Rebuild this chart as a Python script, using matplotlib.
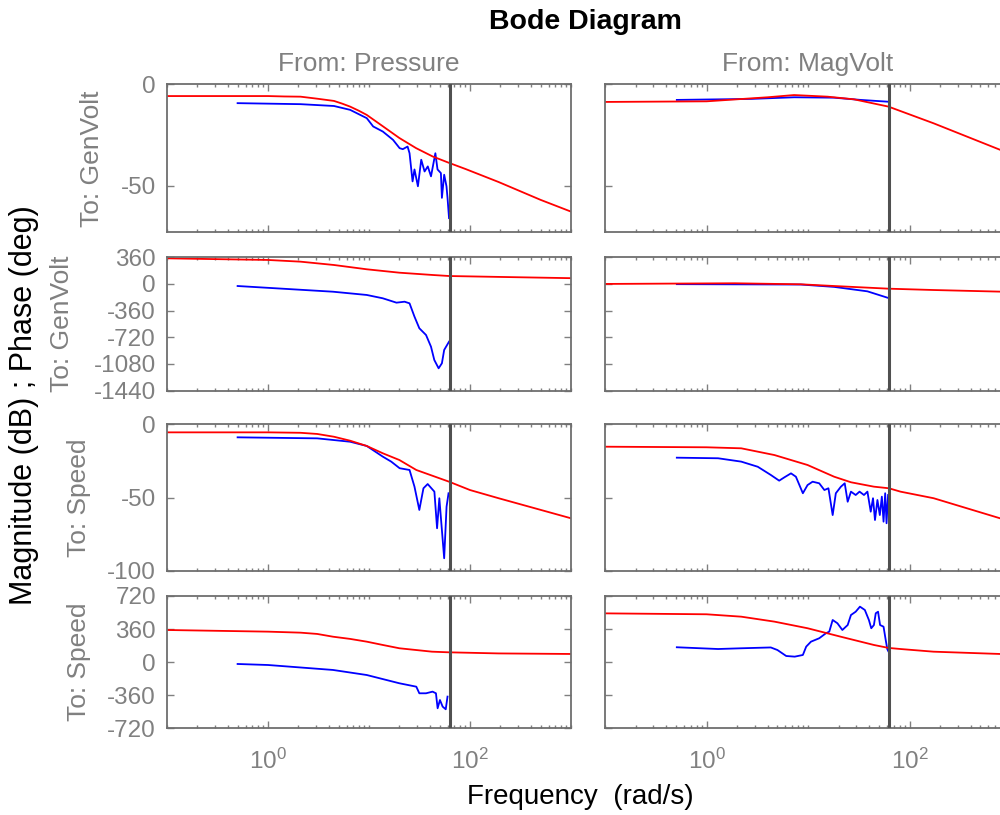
import numpy as np
import matplotlib
matplotlib.use('Agg')
import matplotlib.pyplot as plt
from matplotlib.ticker import LogLocator, NullFormatter

plt.rcParams['font.family'] = ['Liberation Sans', 'DejaVu Sans']
plt.rcParams['mathtext.default'] = 'regular'
plt.rcParams['axes.unicode_minus'] = False

# Nyquist frequency (rad/s)
w_nyq = 62.83

# ---- From: Pressure -> To: GenVolt (magnitude) ----
w_m_p_gv = [0.1, 1, 1.45, 2.1, 3.07, 4.5, 5.4, 6.5, 7.9, 9.5, 13.8, 20, 29.3, 42.7, 62.4, 90.5, 192, 500, 1000]
mag_m_p_gv = [-5.8, -5.8, -6.0, -6.1, -7.1, -8.2, -9.5, -11.0, -13.0, -15.1, -20.8, -26.5, -31.5, -35.6,
              -38.8, -41.8, -48.2, -57.0, -62.8]
w_d_p_gv = [0.5, 2.1, 4.5, 6.5, 9.5, 11.0, 13.7, 17.3, 20.1, 21.6, 24.1, 25.2, 27.0, 28.2, 30.5,
            32.9, 35.5, 38.2, 41.1, 45.4, 47.7, 51.5, 52.7, 55.5, 58.5, 59.9, 62.0]
mag_d_p_gv = [-9.3, -9.8, -10.7, -12.6, -16.7, -20.8, -23.3, -27.4, -31.5, -32.0, -30.7, -34.0, -47.9, -42.0, -50.3,
              -37.2, -43.0, -40.5, -45.4, -34.0, -42.0, -43.8, -56.0, -44.6, -50.3, -56.0, -66.0]

# ---- From: Pressure -> To: GenVolt (phase) ----
w_m_p_gv_ph = [0.1, 1, 2.1, 4.5, 9.5, 20, 42.7, 62.4, 192, 1000]
ph_m_p_gv = [346, 324, 301, 256, 198, 152, 121, 107, 95, 78]
w_d_p_gv_ph = [0.5, 4.4, 9.5, 13.7, 18.7, 22.5, 25.2, 28.2, 31.5, 36.7, 41.1, 44.3, 48.9, 52.7, 55.5, 62.0]
ph_d_p_gv = [-28, -105, -149, -194, -253, -240, -262, -442, -599, -690, -848, -1027, -1140, -1072, -892, -780]

# ---- From: Pressure -> To: Speed (magnitude) ----
w_m_p_sp = [0.1, 1, 2.1, 3.07, 4.5, 6.5, 9.5, 13.7, 20, 29.4, 62, 100, 192, 1000]
mag_m_p_sp = [-5.5, -5.5, -5.8, -6.6, -8.5, -11.2, -14.8, -19.8, -24.4, -31.2, -39.2, -44.9, -50.5, -64.2]
w_d_p_sp = [0.5, 3.07, 6.5, 9.5, 13.7, 16.6, 20.1, 25.2, 28.2, 31.5, 34.6, 38.1, 44.4, 47.2, 49.7, 55.5, 58.6, 61.3]
mag_d_p_sp = [-8.9, -9.6, -11.9, -14.8, -22.1, -25.5, -30.0, -31.2, -42.6, -58.5, -43.7, -40.8, -46.0, -71.0,
              -50.5, -91.5, -56.3, -47.1]

# ---- From: Pressure -> To: Speed (phase) ----
w_m_p_sp_ph = [0.1, 1, 2.1, 3.07, 4.4, 6.5, 9.5, 13.7, 20, 42, 62, 192, 1000]
ph_m_p_sp = [350, 332, 321, 307, 277, 253, 223, 187, 151, 114, 107, 95, 89]
w_d_p_sp_ph = [0.5, 1, 4.4, 9.5, 20, 29.4, 31.5, 36.7, 42.6, 46, 47.8, 50.4, 53.6, 57.5, 59.9]
ph_d_p_sp = [-20, -31, -85, -140, -230, -267, -339, -339, -321, -339, -502, -412, -484, -513, -375]

# ---- From: MagVolt -> To: GenVolt (magnitude) ----
w_m_mv_gv = [0.1, 1, 4.0, 7.3, 15.6, 28.3, 62, 172, 780, 1000]
mag_m_mv_gv = [-8.7, -8.4, -6.4, -5.3, -6.1, -7.4, -11.0, -19.2, -32.3, -34.5]
w_d_mv_gv = [0.51, 2.76, 7.3, 18, 33, 62]
mag_d_mv_gv = [-7.7, -7.2, -6.4, -6.6, -7.7, -8.6]

# ---- From: MagVolt -> To: GenVolt (phase) ----
w_m_mv_gv_ph = [0.1, 1.9, 8.5, 18.1, 38.5, 62, 172, 780, 1000]
ph_m_mv_gv = [0, 9, -5, -28, -50, -64, -82, -104, -108]
w_d_mv_gv_ph = [0.51, 8.5, 18.1, 38.5, 62]
ph_d_mv_gv = [-3, -8, -40, -100, -190]

# ---- From: MagVolt -> To: Speed (magnitude) ----
w_m_mv_sp = [0.1, 1, 2.2, 4.67, 9.9, 18.1, 26.5, 44.6, 62.7, 81.5, 173, 780, 1000]
mag_m_mv_sp = [-15.3, -15.7, -16.4, -21.0, -27.8, -35.8, -39.6, -42.6, -43.7, -46.0, -50.5, -64.2, -66.5]
w_d_mv_sp = [0.51, 1.3, 2.2, 3.2, 4.3, 5.2, 5.86, 6.8, 7.6, 8.9, 9.9, 11.1, 12.9, 14.5, 15.9, 17.5, 18.8,
             21.1, 23.0, 24.6, 26.5, 29.5, 32.2, 35.6, 38.5, 41.5, 43.7, 45.7, 48.3, 51.0, 53.4, 55.5,
             57.6, 59.4, 61.5]
mag_d_mv_sp = [-22.8, -23.2, -25.5, -29.0, -34.6, -38.5, -36.2, -33.5, -35.8, -47.1, -41.5, -39.2, -40.3,
               -44.9, -43.7, -62.0, -47.1, -42.6, -40.3, -52.9, -46.0, -48.3, -46.0, -48.3, -46.0, -59.7,
               -50.5, -65.4, -51.7, -62.0, -49.4, -66.5, -47.1, -67.6, -48.3]

# ---- From: MagVolt -> To: Speed (phase) ----
w_m_mv_sp_ph = [0.1, 1, 2.2, 4.67, 9.9, 21, 44.6, 62, 81.5, 172, 780, 1000]
ph_m_mv_sp = [531, 521, 495, 441, 369, 277, 187, 155, 143, 114, 89, 87]
w_d_mv_sp_ph = [0.51, 1.3, 2.2, 4.3, 5.0, 6.1, 7.4, 8.9, 9.6, 10.7, 12.9, 15.0, 16.2, 17.5, 19.5, 21.8,
                24.6, 26.5, 29.5, 32.5, 36.3, 39.8, 42.0, 44.6, 46.5, 49.0, 51.3, 55.5, 58.3, 60.5, 61.8]
ph_d_mv_sp = [162, 143, 151, 160, 132, 67, 60, 78, 169, 223, 260, 314, 332, 459, 423, 350,
              404, 513, 549, 604, 568, 459, 369, 404, 532, 549, 404, 386, 241, 140, 120]

grey = '#808080'
spine_grey = '#6e6e6e'

fig = plt.figure(figsize=(10, 8.15), dpi=100)

# axes boxes in pixels (left, top, right, bottom)
col_x = [(167, 571), (605, 1011)]
row_y = [(84.3, 232.3), (257.3, 390.5), (424.3, 570.7), (596, 728.3)]
ylims = [(-73, 0), (-1440, 360), (-100, 0), (-720, 720)]
yticks = [[-50, 0], [-1440, -1080, -720, -360, 0, 360], [-100, -50, 0], [-720, -360, 0, 360, 720]]

panels = [
    [(w_d_p_gv, mag_d_p_gv, w_m_p_gv, mag_m_p_gv), (w_d_mv_gv, mag_d_mv_gv, w_m_mv_gv, mag_m_mv_gv)],
    [(w_d_p_gv_ph, ph_d_p_gv, w_m_p_gv_ph, ph_m_p_gv), (w_d_mv_gv_ph, ph_d_mv_gv, w_m_mv_gv_ph, ph_m_mv_gv)],
    [(w_d_p_sp, mag_d_p_sp, w_m_p_sp, mag_m_p_sp), (w_d_mv_sp, mag_d_mv_sp, w_m_mv_sp, mag_m_mv_sp)],
    [(w_d_p_sp_ph, ph_d_p_sp, w_m_p_sp_ph, ph_m_p_sp), (w_d_mv_sp_ph, ph_d_mv_sp, w_m_mv_sp_ph, ph_m_mv_sp)],
]

W, H = 1000.0, 815.0
for r in range(4):
    for c in range(2):
        x0, x1 = col_x[c]
        y0, y1 = row_y[r]
        ax = fig.add_axes([x0 / W, 1 - y1 / H, (x1 - x0) / W, (y1 - y0) / H])
        wd, yd, wm, ym = panels[r][c]
        ax.plot(wd, yd, color='#0000ff', lw=1.3, zorder=2)
        ax.plot(wm, ym, color='#ff0000', lw=1.3, zorder=2)
        ax.axvline(w_nyq, color='#505050', lw=2.2, zorder=3)
        ax.set_xscale('log')
        ax.set_xlim(0.1, 1000)
        ax.set_ylim(ylims[r])
        ax.set_yticks(yticks[r])
        ax.set_xticks([1, 100])
        ax.set_xticklabels(['$10^{0}$', '$10^{2}$'])
        ax.xaxis.set_minor_locator(LogLocator(base=10, subs=np.arange(1, 10), numticks=20))
        ax.xaxis.set_minor_formatter(NullFormatter())
        ax.tick_params(which='both', direction='in', top=True, right=True,
                       colors=grey, labelsize=17.5, width=1)
        ax.tick_params(which='major', length=5)
        ax.tick_params(which='minor', length=2.5)
        ax.tick_params(axis='y', pad=8)
        ax.tick_params(axis='x', pad=15)
        for s in ax.spines.values():
            s.set_color(spine_grey)
            s.set_linewidth(1.3)
        if c == 1:
            ax.tick_params(labelleft=False)
        if r < 3:
            ax.tick_params(labelbottom=False)

# titles and labels
fig.text(585 / W, 1 - 22 / H, 'Bode Diagram', ha='center', va='center',
         fontsize=20.5, fontweight='bold', color='black')
fig.text(369 / W, 1 - 64 / H, 'From: Pressure', ha='center', va='center', fontsize=19, color=grey)
fig.text(808 / W, 1 - 64 / H, 'From: MagVolt', ha='center', va='center', fontsize=19, color=grey)
row_names = ['To: GenVolt', 'To: GenVolt', 'To: Speed', 'To: Speed']
row_label_x = [92, 62, 79, 79]
for r in range(4):
    yc = (row_y[r][0] + row_y[r][1]) / 2
    fig.text(row_label_x[r] / W, 1 - yc / H, row_names[r], ha='center', va='center', rotation=90,
             fontsize=19, color=grey)
fig.text(24 / W, 1 - 405 / H, 'Magnitude (dB) ; Phase (deg)', ha='center', va='center',
         rotation=90, fontsize=22, color='black')
fig.text(580 / W, 1 - 797 / H, 'Frequency  (rad/s)', ha='center', va='center',
         fontsize=20, color='black')

plt.savefig('out.png', dpi=100)
plt.close()
